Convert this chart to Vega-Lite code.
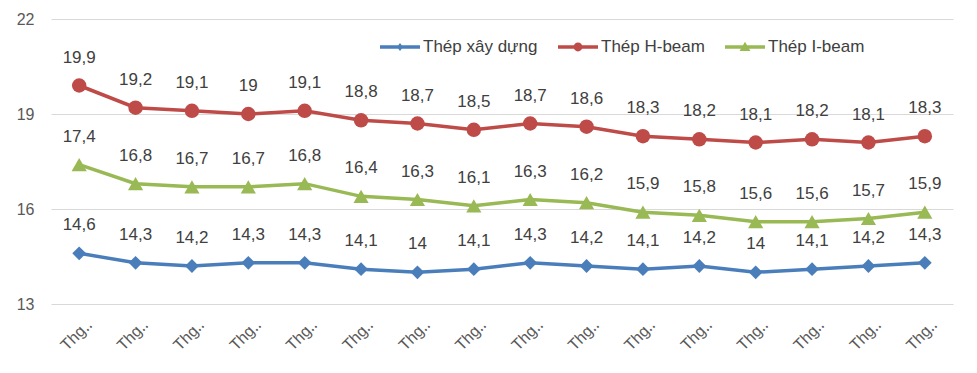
{
  "$schema": "https://vega.github.io/schema/vega-lite/v6.json",
  "width": 902,
  "height": 285,
  "autosize": {"type": "none"},
  "padding": {"left": 51, "top": 19, "right": 24, "bottom": 69},
  "background": "white",
  "config": {
    "view": {"stroke": null},
    "font": "Liberation Sans",
    "locale": {"number": {"decimal": ",", "thousands": ".", "grouping": [3], "currency": ["", " ₫"]}}
  },
  "data": {
    "values": [
      {"thang": "Thg 1", "series": "Thép xây dựng", "v": 14.6},
      {"thang": "Thg 2", "series": "Thép xây dựng", "v": 14.3},
      {"thang": "Thg 3", "series": "Thép xây dựng", "v": 14.2},
      {"thang": "Thg 4", "series": "Thép xây dựng", "v": 14.3},
      {"thang": "Thg 5", "series": "Thép xây dựng", "v": 14.3},
      {"thang": "Thg 6", "series": "Thép xây dựng", "v": 14.1},
      {"thang": "Thg 7", "series": "Thép xây dựng", "v": 14.0},
      {"thang": "Thg 8", "series": "Thép xây dựng", "v": 14.1},
      {"thang": "Thg 9", "series": "Thép xây dựng", "v": 14.3},
      {"thang": "Thg 10", "series": "Thép xây dựng", "v": 14.2},
      {"thang": "Thg 11", "series": "Thép xây dựng", "v": 14.1},
      {"thang": "Thg 12", "series": "Thép xây dựng", "v": 14.2},
      {"thang": "Thg 13", "series": "Thép xây dựng", "v": 14.0},
      {"thang": "Thg 14", "series": "Thép xây dựng", "v": 14.1},
      {"thang": "Thg 15", "series": "Thép xây dựng", "v": 14.2},
      {"thang": "Thg 16", "series": "Thép xây dựng", "v": 14.3},
      {"thang": "Thg 1", "series": "Thép H-beam", "v": 19.9},
      {"thang": "Thg 2", "series": "Thép H-beam", "v": 19.2},
      {"thang": "Thg 3", "series": "Thép H-beam", "v": 19.1},
      {"thang": "Thg 4", "series": "Thép H-beam", "v": 19.0},
      {"thang": "Thg 5", "series": "Thép H-beam", "v": 19.1},
      {"thang": "Thg 6", "series": "Thép H-beam", "v": 18.8},
      {"thang": "Thg 7", "series": "Thép H-beam", "v": 18.7},
      {"thang": "Thg 8", "series": "Thép H-beam", "v": 18.5},
      {"thang": "Thg 9", "series": "Thép H-beam", "v": 18.7},
      {"thang": "Thg 10", "series": "Thép H-beam", "v": 18.6},
      {"thang": "Thg 11", "series": "Thép H-beam", "v": 18.3},
      {"thang": "Thg 12", "series": "Thép H-beam", "v": 18.2},
      {"thang": "Thg 13", "series": "Thép H-beam", "v": 18.1},
      {"thang": "Thg 14", "series": "Thép H-beam", "v": 18.2},
      {"thang": "Thg 15", "series": "Thép H-beam", "v": 18.1},
      {"thang": "Thg 16", "series": "Thép H-beam", "v": 18.3},
      {"thang": "Thg 1", "series": "Thép I-beam", "v": 17.4},
      {"thang": "Thg 2", "series": "Thép I-beam", "v": 16.8},
      {"thang": "Thg 3", "series": "Thép I-beam", "v": 16.7},
      {"thang": "Thg 4", "series": "Thép I-beam", "v": 16.7},
      {"thang": "Thg 5", "series": "Thép I-beam", "v": 16.8},
      {"thang": "Thg 6", "series": "Thép I-beam", "v": 16.4},
      {"thang": "Thg 7", "series": "Thép I-beam", "v": 16.3},
      {"thang": "Thg 8", "series": "Thép I-beam", "v": 16.1},
      {"thang": "Thg 9", "series": "Thép I-beam", "v": 16.3},
      {"thang": "Thg 10", "series": "Thép I-beam", "v": 16.2},
      {"thang": "Thg 11", "series": "Thép I-beam", "v": 15.9},
      {"thang": "Thg 12", "series": "Thép I-beam", "v": 15.8},
      {"thang": "Thg 13", "series": "Thép I-beam", "v": 15.6},
      {"thang": "Thg 14", "series": "Thép I-beam", "v": 15.6},
      {"thang": "Thg 15", "series": "Thép I-beam", "v": 15.7},
      {"thang": "Thg 16", "series": "Thép I-beam", "v": 15.9}
    ]
  },
  "encoding": {
    "x": {
      "field": "thang", "type": "ordinal", "sort": null,
      "scale": {"type": "point", "padding": 0.5},
      "axis": {
        "title": null, "domain": false, "ticks": false, "grid": false,
        "labelAngle": -45, "labelAlign": "right", "labelBaseline": "top",
        "labelExpr": "'Thg‥'",
        "labelFontSize": 16, "labelColor": "#595959",
        "labelPadding": 12, "labelOffset": 4
      }
    },
    "y": {
      "field": "v", "type": "quantitative",
      "scale": {"domain": [13, 22], "nice": false, "zero": false},
      "axis": {
        "title": null, "values": [13, 16, 19, 22], "domain": false, "ticks": false,
        "gridColor": "#D9D9D9", "gridWidth": 1,
        "labelFontSize": 16, "labelColor": "#595959", "labelPadding": 17
      }
    }
  },
  "layer": [
    {
      "mark": {"type": "line", "strokeWidth": 3.5},
      "encoding": {
        "color": {
          "field": "series", "type": "nominal", "legend": null,
          "scale": {"domain": ["Thép xây dựng", "Thép H-beam", "Thép I-beam"], "range": ["#4A7EBB", "#BE4B48", "#98B954"]}
        }
      }
    },
    {
      "mark": {"type": "point", "filled": true, "opacity": 1},
      "encoding": {
        "color": {
          "field": "series", "type": "nominal", "legend": null,
          "scale": {"domain": ["Thép xây dựng", "Thép H-beam", "Thép I-beam"], "range": ["#4A7EBB", "#BE4B48", "#98B954"]}
        },
        "shape": {
          "field": "series", "type": "nominal", "legend": null,
          "scale": {"domain": ["Thép xây dựng", "Thép H-beam", "Thép I-beam"], "range": ["diamond", "circle", "triangle-up"]}
        },
        "size": {
          "field": "series", "type": "nominal", "legend": null,
          "scale": {"domain": ["Thép xây dựng", "Thép H-beam", "Thép I-beam"], "range": [190, 230, 240]}
        }
      }
    },
    {
      "mark": {"type": "text", "dy": -28, "fontSize": 17, "color": "#404040", "baseline": "middle"},
      "encoding": {
        "text": {"field": "v", "type": "quantitative", "format": ".1~f"}
      }
    },
    {
      "mark": {"type": "point", "filled": true, "opacity": 0, "size": 1600},
      "encoding": {
        "color": {
          "field": "series", "type": "nominal",
          "scale": {"domain": ["Thép xây dựng", "Thép H-beam", "Thép I-beam"], "range": ["#4A7EBB", "#BE4B48", "#98B954"]},
          "legend": {
            "title": null, "orient": "none", "legendX": 329, "legendY": 8, "direction": "horizontal",
            "labelFontSize": 17, "labelColor": "#404040", "labelOffset": 3, "columnPadding": 20,
            "symbolOpacity": 1, "symbolSize": 1600, "symbolStrokeWidth": 0, "labelLimit": 300
          }
        },
        "shape": {
          "field": "series", "type": "nominal",
          "scale": {
            "domain": ["Thép xây dựng", "Thép H-beam", "Thép I-beam"],
            "range": [
              "M-1,-0.09H1V0.09H-1Z M0,-0.2L0.15,0L0,0.2L-0.15,0Z",
              "M-1,-0.09H1V0.09H-1Z M0.22,0A0.22,0.22,0,1,1,-0.22,0A0.22,0.22,0,1,1,0.22,0Z",
              "M-1,-0.09H1V0.09H-1Z M0,-0.26L0.27,0.2H-0.27Z"
            ]
          },
          "legend": {
            "title": null, "orient": "none", "legendX": 329, "legendY": 8, "direction": "horizontal",
            "labelFontSize": 17, "labelColor": "#404040", "labelOffset": 3, "columnPadding": 20,
            "symbolOpacity": 1, "symbolSize": 1600, "symbolStrokeWidth": 0, "labelLimit": 300
          }
        }
      }
    }
  ],
  "resolve": {"scale": {"shape": "independent", "size": "independent", "color": "independent"}}
}
